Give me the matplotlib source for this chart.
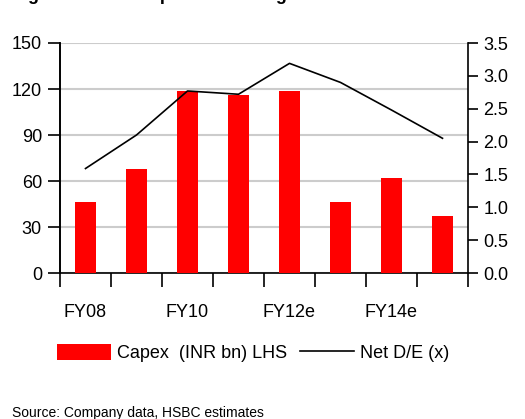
import matplotlib
matplotlib.use("Agg")
import matplotlib.pyplot as plt
from matplotlib.font_manager import findfont, FontProperties
from matplotlib.patches import Patch
from matplotlib.lines import Line2D

# ---- data ----
years = ["FY08", "FY09", "FY10", "FY11", "FY12e", "FY13e", "FY14e", "FY15e"]
capex = [46, 68, 119, 116, 119, 46, 62, 37]          # INR bn, LHS
net_de = [1.59, 2.10, 2.77, 2.72, 3.19, 2.90, 2.48, 2.05]  # x, RHS
shown_labels = ["FY08", "FY10", "FY12e", "FY14e"]

# narrow sans if it is around, plain Liberation Sans otherwise
family = "Liberation Sans Narrow"
try:
    findfont(FontProperties(family=family), fallback_to_default=False)
except Exception:
    family = "Liberation Sans"
plt.rcParams["font.family"] = [family, "DejaVu Sans"]

W, H = 525, 419
fig = plt.figure(figsize=(W / 100, H / 100), dpi=100)
ax = fig.add_axes([60 / W, (H - 273) / H, (468 - 60) / W, (273 - 43) / H])
ax2 = ax.twinx()

xs = list(range(len(years)))
ax.bar(xs, capex, width=0.43, color="#ff0000", zorder=3)
ax2.plot(xs, net_de, color="black", lw=1.2, zorder=4)

# left axis
ax.set_xlim(-0.5, len(years) - 0.5)
ax.set_ylim(0, 150)
ax.set_yticks(range(0, 151, 30))
ax.yaxis.grid(True, color="#cccccc", lw=1.5, zorder=0)
ax.set_axisbelow(True)
ax.tick_params(axis="y", direction="out", length=9, width=1.2, labelsize=13, pad=4)

# right axis
ax2.set_ylim(0, 3.5)
ax2.set_yticks([i * 0.5 for i in range(8)])
ax2.set_yticklabels([f"{i * 0.5:.1f}" for i in range(8)])
ax2.tick_params(axis="y", direction="out", length=7, width=1.2, labelsize=13, pad=4)

# x axis: ticks on the category boundaries, labels every other year
ax.set_xticks([i - 0.5 for i in range(len(years) + 1)])
ax.set_xticklabels([])
ax.tick_params(axis="x", which="major", direction="out", length=10, width=1.2)
ax.set_xticks([years.index(s) for s in shown_labels], minor=True)
ax.set_xticklabels(shown_labels, minor=True)
ax.tick_params(axis="x", which="minor", length=0, labelsize=13, pad=22)

for a in (ax, ax2):
    a.spines["top"].set_visible(False)
    for s in ("left", "right", "bottom"):
        a.spines[s].set_linewidth(1.2)
ax.spines["right"].set_visible(False)
ax2.spines["bottom"].set_visible(False)

# legend under the chart
handles = [Patch(facecolor="#ff0000", edgecolor="none", label="Capex  (INR bn) LHS"),
           Line2D([], [], color="black", lw=1.2, label="Net D/E (x)")]
fig.legend(handles=handles, loc="center", bbox_to_anchor=(253 / W, (H - 353) / H),
           ncol=2, frameon=False, fontsize=13, handlelength=3.0, handleheight=0.95,
           handletextpad=0.3, columnspacing=0.75)

# heading runs off the top edge, source note runs off the bottom
fig.text(12 / W, 1.0, "Figure 4: Total capex and debt growth", fontsize=13,
         fontweight="bold", va="baseline", ha="left")
fig.text(12 / W, (H - 417) / H, "Source: Company data, HSBC estimates",
         fontsize=10, va="baseline", ha="left")

fig.savefig("out.png", dpi=100)
